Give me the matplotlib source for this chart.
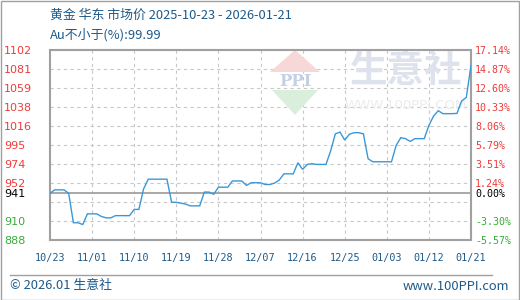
import matplotlib
matplotlib.use('Agg')
import matplotlib.pyplot as plt
from matplotlib.patches import Polygon, Rectangle
from matplotlib.lines import Line2D
import pandas as pd

# ---------------- data ----------------
start_date = '2025-10-23'
prices = [941, 945, 945, 945, 941, 908, 908, 906, 918, 918,
          918, 915, 913.5, 913.5, 916, 916, 916, 916, 923, 923,
          946, 957, 957, 957, 957, 957, 931, 931, 930, 929,
          927, 927, 927, 942.5, 942.5, 940, 948, 948, 948, 955,
          955, 955, 950, 953, 953, 953, 951, 951, 952.6, 956,
          963, 963, 963, 975.5, 968, 973.6, 974.4, 973.6, 973.6, 973.6,
          989, 1008, 1010, 1001, 1007.5, 1009.3, 1009.3, 1008, 980, 976.6,
          976.6, 976.6, 976.6, 976.6, 995, 1003.7, 1002.6, 999.5, 1002.6, 1002.6,
          1002.6, 1017.5, 1028, 1034, 1030.7, 1030.7, 1030.7, 1031, 1045, 1049,
          1085]
base_price = 941
y_tick_values = [888.6, 909.95, 931.3, 952.7, 974.0, 995.5, 1016.8, 1038.2,
                 1059.6, 1080.9, 1102.3]
left_tick_labels = ['888', '910', '', '952', '974', '995', '1016', '1038',
                    '1059', '1081', '1102']
right_tick_labels = ['-5.57%', '-3.30%', '', '1.24%', '3.51%', '5.79%', '8.06%',
                     '10.33%', '12.60%', '14.87%', '17.14%']
base_left_label = '941'
base_right_label = '0.00%'
x_tick_labels = ['10/23', '11/01', '11/10', '11/19', '11/28', '12/07',
                 '12/16', '12/25', '01/03', '01/12', '01/21']
x_tick_step_days = 9
title_line1 = '黄金 华东 市场价 2025-10-23 - 2026-01-21'
title_line2 = 'Au不小于(%):99.99'
footer_left = '© 2026.01 生意社'
footer_right = 'www.100PPI.com'

# ---------------- style ----------------
W, H = 520, 300
LINE_C = '#3a98d8'
RED = '#f03a3a'
GREEN = '#3aaa3a'
BLUE_TXT = '#1d5a8a'
GRID_C = '#c8c8c8'
FRAME_C = '#a0a0a0'
CJK = ['Noto Sans CJK SC', 'DejaVu Sans']

plt.rcParams['font.family'] = CJK

dates = pd.date_range(start_date, periods=len(prices), freq='D')
tick_dates = dates[::x_tick_step_days]

fig = plt.figure(figsize=(W / 100, H / 100), dpi=100)
fig.patch.set_facecolor('white')

def fx(px):
    return px / W

def fy(py):
    return 1 - py / H

ax = fig.add_axes([fx(50), fy(240), fx(471) - fx(50), fy(50) - fy(240)])
ax.set_facecolor('white')

ax.plot(dates, prices, color=LINE_C, lw=1.0, zorder=3, solid_joinstyle='miter')
ax.axhline(base_price, color='#999999', lw=1.2, zorder=2.2)

ax.set_xlim(dates[0], dates[-1])
ax.set_ylim(y_tick_values[0], y_tick_values[-1])

ax.set_xticks(tick_dates)
ax.set_xticklabels(x_tick_labels[:len(tick_dates)], family='DejaVu Sans Mono',
                   fontsize=7.3, color=BLUE_TXT)
ax.tick_params(axis='x', length=0, pad=9)

# left y labels
lt = list(y_tick_values) + [base_price]
ll = list(left_tick_labels) + [base_left_label]
ax.set_yticks(lt)
ax.set_yticklabels(ll, fontsize=8, family='DejaVu Sans')
ax.tick_params(axis='y', length=0, pad=33)
for v, lab in zip(lt, ax.get_yticklabels()):
    lab.set_horizontalalignment('left')
    if abs(v - base_price) < 0.5:
        lab.set_color('black')
    elif v > base_price:
        lab.set_color(RED)
    else:
        lab.set_color(GREEN)

ax.grid(True, color=GRID_C, lw=0.8, ls=(0, (3, 3)))
for gl, v in zip(ax.yaxis.get_gridlines(), lt):
    if abs(v - base_price) < 0.5:
        gl.set_visible(False)
for gl in ax.xaxis.get_gridlines()[:1] + ax.xaxis.get_gridlines()[-1:]:
    gl.set_visible(False)

for s in ax.spines.values():
    s.set_color(FRAME_C)
    s.set_linewidth(1.5)

# right axis
ax2 = ax.twinx()
ax2.set_ylim(ax.get_ylim())
ax2.set_yticks(lt)
ax2.set_yticklabels(list(right_tick_labels) + [base_right_label],
                    family='DejaVu Sans Mono', fontsize=7.2)
ax2.tick_params(axis='y', length=0, pad=3)
for v, lab in zip(lt, ax2.get_yticklabels()):
    if abs(v - base_price) < 0.5:
        lab.set_color('black')
    elif v > base_price:
        lab.set_color(RED)
    else:
        lab.set_color(GREEN)
for s in ax2.spines.values():
    s.set_visible(False)

# watermark (behind the line)
ax.add_patch(Polygon([(fx(270), fy(72)), (fx(320), fy(72)), (fx(295), fy(50))],
                     closed=True, transform=fig.transFigure, facecolor='#f6d8d8',
                     edgecolor='none', zorder=1.6))
ax.add_patch(Polygon([(fx(272), fy(90)), (fx(318), fy(90)), (fx(295), fy(115))],
                     closed=True, transform=fig.transFigure, facecolor='#d9efdc',
                     edgecolor='none', zorder=1.6))
ax.text(fx(295), fy(81), 'PPI', transform=fig.transFigure, ha='center', va='center',
        fontsize=12, fontweight='bold', color='#c6d0e4', family='DejaVu Serif',
        zorder=1.7)
ax.text(fx(406), fy(70), '生意社', transform=fig.transFigure, ha='center', va='center',
        fontsize=27, fontweight='bold', color='#dde2ec', zorder=1.7)
ax.text(fx(406), fy(106), 'WWW.100PPI.COM', transform=fig.transFigure, ha='center',
        va='center', fontsize=9.5, color='#ececec', family='DejaVu Sans', zorder=1.7)

# titles
fig.text(fx(50), fy(15), title_line1, ha='left', va='center', fontsize=9.3,
         color=BLUE_TXT, family=CJK)
fig.text(fx(50), fy(35), title_line2, ha='left', va='center', fontsize=9.3,
         color=BLUE_TXT, family=CJK)

# footer
fig.add_artist(Line2D([fx(10), fx(492)], [fy(275), fy(275)], color='#a0a0a0', lw=1.0,
                      transform=fig.transFigure))
fig.text(fx(10), fy(286), footer_left, ha='left', va='center', fontsize=9.3,
         color=BLUE_TXT, family=CJK)
fig.text(fx(509), fy(286), footer_right, ha='right', va='center', fontsize=9.3,
         color=BLUE_TXT, family=CJK)

# outer border
fig.add_artist(Rectangle((0.5 / W, 0.5 / H), 1 - 1.5 / W, 1 - 1.5 / H, fill=False,
                         edgecolor='#a0a0a0', lw=1.0, transform=fig.transFigure))

fig.savefig('out.png', dpi=100, facecolor='white')
